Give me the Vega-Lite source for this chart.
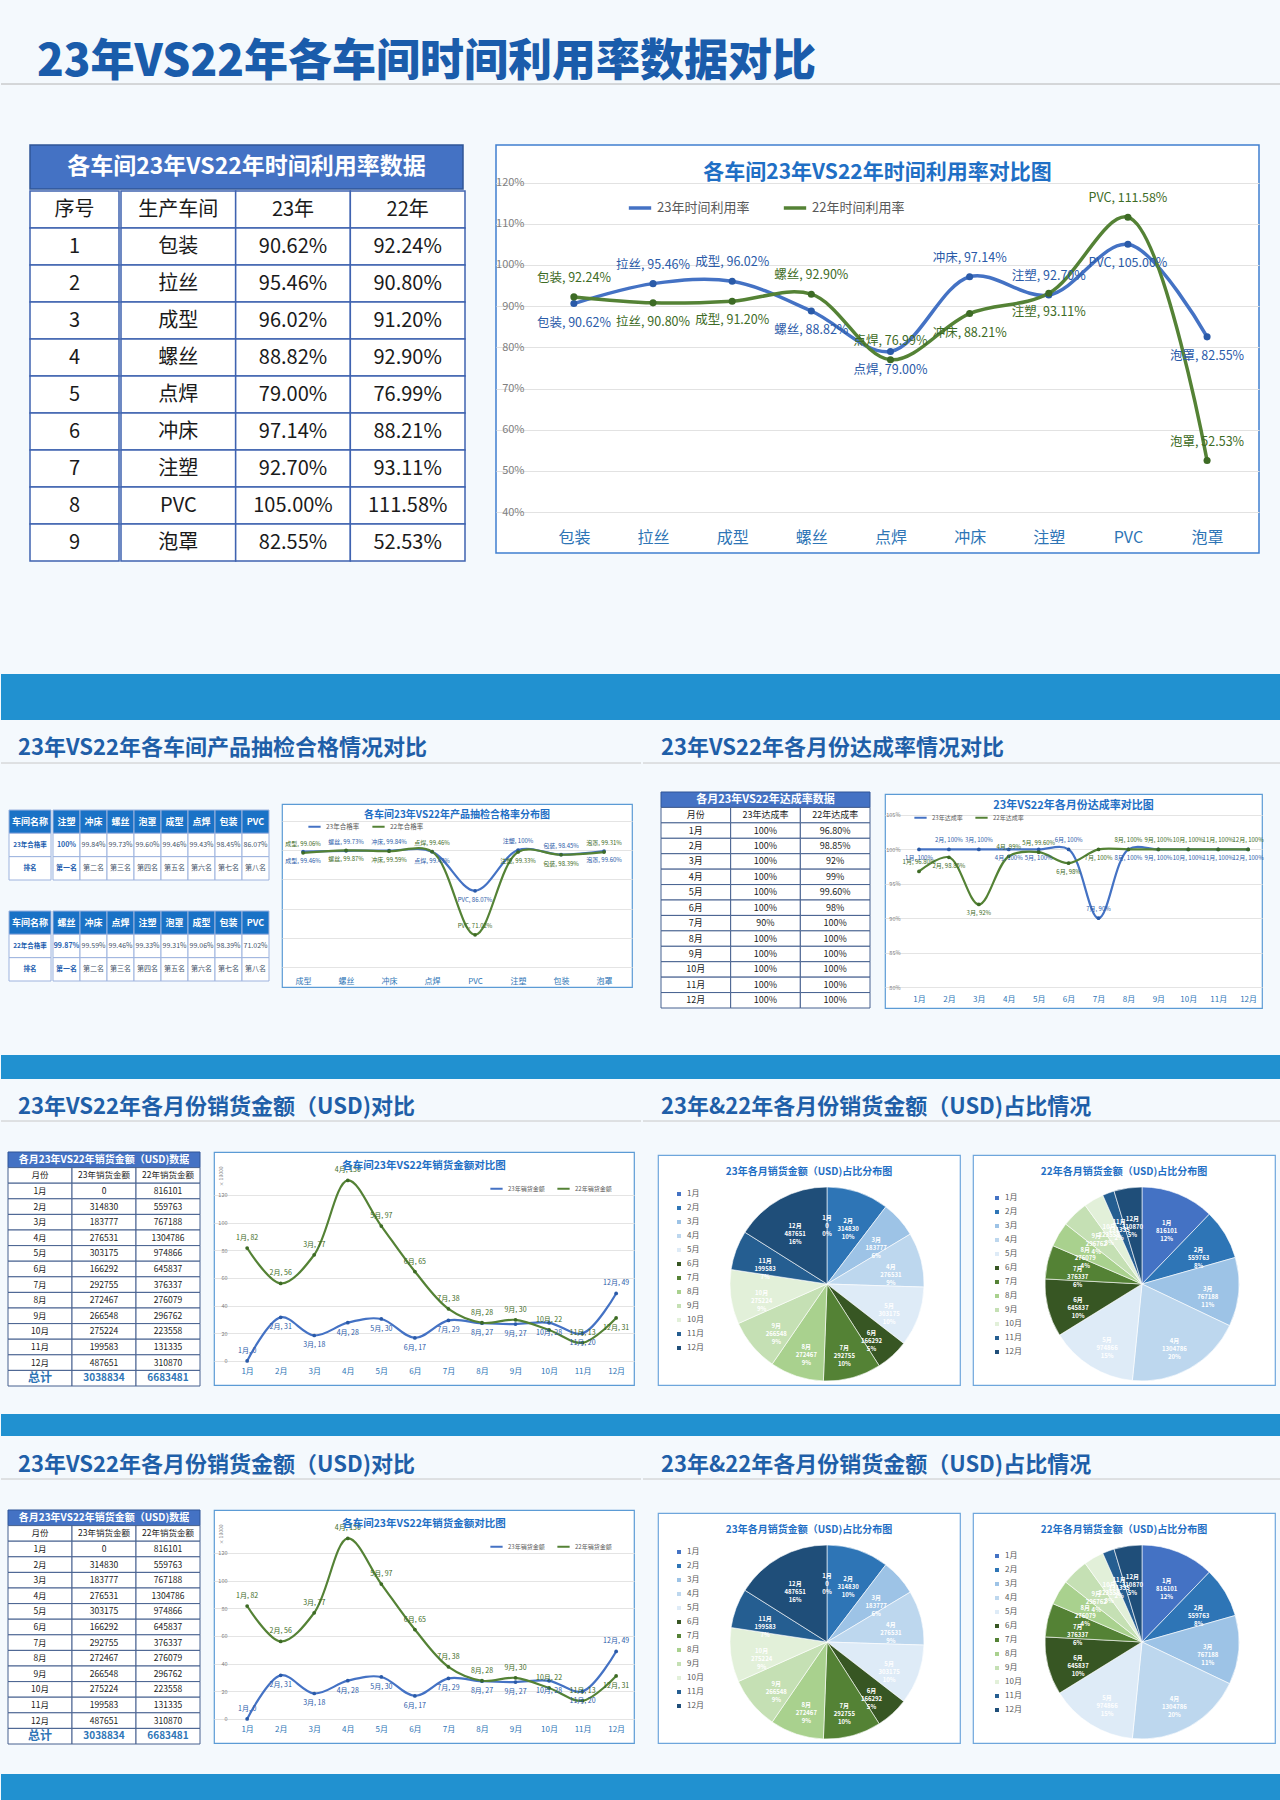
{
"$schema":"https://vega.github.io/schema/vega-lite/v6.json",
"background":"#f4f9fd",
"padding":0,
"spacing":0,
"resolve":{"scale":{"color":"independent","fill":"independent","theta":"independent"},"legend":{"color":"independent","fill":"independent"}},
"config":{"font":"Noto Sans CJK SC","view":{"stroke":null},"concat":{"spacing":0}},
"datasets":{
"t1":[
{"r":"t","a":"各车间23年VS22年时间利用率数据"},
{"r":"h","a":"序号","b":"生产车间","c":"23年","d":"22年"},
{"r":"1","a":"1","b":"包装","c":"90.62%","d":"92.24%"},
{"r":"2","a":"2","b":"拉丝","c":"95.46%","d":"90.80%"},
{"r":"3","a":"3","b":"成型","c":"96.02%","d":"91.20%"},
{"r":"4","a":"4","b":"螺丝","c":"88.82%","d":"92.90%"},
{"r":"5","a":"5","b":"点焊","c":"79.00%","d":"76.99%"},
{"r":"6","a":"6","b":"冲床","c":"97.14%","d":"88.21%"},
{"r":"7","a":"7","b":"注塑","c":"92.70%","d":"93.11%"},
{"r":"8","a":"8","b":"PVC","c":"105.00%","d":"111.58%"},
{"r":"9","a":"9","b":"泡罩","c":"82.55%","d":"52.53%"}],
"t2a":[
{"r":"h","a":"车间名称","b":"注塑","c":"冲床","d":"螺丝","e":"泡罩","f":"成型","g":"点焊","h":"包装","i":"PVC"},
{"r":"v","a":"23年合格率","b":"100%","c":"99.84%","d":"99.73%","e":"99.60%","f":"99.46%","g":"99.43%","h":"98.45%","i":"86.07%"},
{"r":"k","a":"排名","b":"第一名","c":"第二名","d":"第三名","e":"第四名","f":"第五名","g":"第六名","h":"第七名","i":"第八名"}],
"t2b":[
{"r":"h","a":"车间名称","b":"螺丝","c":"冲床","d":"点焊","e":"注塑","f":"泡罩","g":"成型","h":"包装","i":"PVC"},
{"r":"v","a":"22年合格率","b":"99.87%","c":"99.59%","d":"99.46%","e":"99.33%","f":"99.31%","g":"99.06%","h":"98.39%","i":"71.02%"},
{"r":"k","a":"排名","b":"第一名","c":"第二名","d":"第三名","e":"第四名","f":"第五名","g":"第六名","h":"第七名","i":"第八名"}],
"t2c":[
{"r":"t","a":"各月23年VS22年达成率数据"},
{"r":"h","a":"月份","b":"23年达成率","c":"22年达成率"},
{"r":"1","a":"1月","b":"100%","c":"96.80%"},
{"r":"2","a":"2月","b":"100%","c":"98.85%"},
{"r":"3","a":"3月","b":"100%","c":"92%"},
{"r":"4","a":"4月","b":"100%","c":"99%"},
{"r":"5","a":"5月","b":"100%","c":"99.60%"},
{"r":"6","a":"6月","b":"100%","c":"98%"},
{"r":"7","a":"7月","b":"90%","c":"100%"},
{"r":"8","a":"8月","b":"100%","c":"100%"},
{"r":"9","a":"9月","b":"100%","c":"100%"},
{"r":"10","a":"10月","b":"100%","c":"100%"},
{"r":"11","a":"11月","b":"100%","c":"100%"},
{"r":"12","a":"12月","b":"100%","c":"100%"}],
"t3":[
{"r":"t","a":"各月23年VS22年销货金额（USD)数据"},
{"r":"h","a":"月份","b":"23年销货金额","c":"22年销货金额"},
{"r":"1","a":"1月","b":"0","c":"816101"},
{"r":"2","a":"2月","b":"314830","c":"559763"},
{"r":"3","a":"3月","b":"183777","c":"767188"},
{"r":"4","a":"4月","b":"276531","c":"1304786"},
{"r":"5","a":"5月","b":"303175","c":"974866"},
{"r":"6","a":"6月","b":"166292","c":"645837"},
{"r":"7","a":"7月","b":"292755","c":"376337"},
{"r":"8","a":"8月","b":"272467","c":"276079"},
{"r":"9","a":"9月","b":"266548","c":"296762"},
{"r":"10","a":"10月","b":"275224","c":"223558"},
{"r":"11","a":"11月","b":"199583","c":"131335"},
{"r":"12","a":"12月","b":"487651","c":"310870"},
{"r":"s","a":"总计","b":"3038834","c":"6683481"}],
"util":[
{"cat":"包装","23年时间利用率":90.62,"22年时间利用率":92.24},
{"cat":"拉丝","23年时间利用率":95.46,"22年时间利用率":90.80},
{"cat":"成型","23年时间利用率":96.02,"22年时间利用率":91.20},
{"cat":"螺丝","23年时间利用率":88.82,"22年时间利用率":92.90},
{"cat":"点焊","23年时间利用率":79.00,"22年时间利用率":76.99},
{"cat":"冲床","23年时间利用率":97.14,"22年时间利用率":88.21},
{"cat":"注塑","23年时间利用率":92.70,"22年时间利用率":93.11},
{"cat":"PVC","23年时间利用率":105.00,"22年时间利用率":111.58},
{"cat":"泡罩","23年时间利用率":82.55,"22年时间利用率":52.53}],
"qc":[
{"cat":"成型","23年合格率":99.46,"22年合格率":99.06},
{"cat":"螺丝","23年合格率":99.73,"22年合格率":99.87},
{"cat":"冲床","23年合格率":99.84,"22年合格率":99.59},
{"cat":"点焊","23年合格率":99.43,"22年合格率":99.46},
{"cat":"PVC","23年合格率":86.07,"22年合格率":71.02},
{"cat":"注塑","23年合格率":100,"22年合格率":99.33},
{"cat":"包装","23年合格率":98.45,"22年合格率":98.39},
{"cat":"泡罩","23年合格率":99.60,"22年合格率":99.31}],
"rate":[
{"m":"1月","23年达成率":100,"22年达成率":96.8},
{"m":"2月","23年达成率":100,"22年达成率":98.85},
{"m":"3月","23年达成率":100,"22年达成率":92},
{"m":"4月","23年达成率":100,"22年达成率":99},
{"m":"5月","23年达成率":100,"22年达成率":99.6},
{"m":"6月","23年达成率":100,"22年达成率":98},
{"m":"7月","23年达成率":90,"22年达成率":100},
{"m":"8月","23年达成率":100,"22年达成率":100},
{"m":"9月","23年达成率":100,"22年达成率":100},
{"m":"10月","23年达成率":100,"22年达成率":100},
{"m":"11月","23年达成率":100,"22年达成率":100},
{"m":"12月","23年达成率":100,"22年达成率":100}],
"sales":[
{"n":1,"m":"1月","23年销货金额":0,"22年销货金额":816101},
{"n":2,"m":"2月","23年销货金额":314830,"22年销货金额":559763},
{"n":3,"m":"3月","23年销货金额":183777,"22年销货金额":767188},
{"n":4,"m":"4月","23年销货金额":276531,"22年销货金额":1304786},
{"n":5,"m":"5月","23年销货金额":303175,"22年销货金额":974866},
{"n":6,"m":"6月","23年销货金额":166292,"22年销货金额":645837},
{"n":7,"m":"7月","23年销货金额":292755,"22年销货金额":376337},
{"n":8,"m":"8月","23年销货金额":272467,"22年销货金额":276079},
{"n":9,"m":"9月","23年销货金额":266548,"22年销货金额":296762},
{"n":10,"m":"10月","23年销货金额":275224,"22年销货金额":223558},
{"n":11,"m":"11月","23年销货金额":199583,"22年销货金额":131335},
{"n":12,"m":"12月","23年销货金额":487651,"22年销货金额":310870}]
},
"vconcat":[
{"width":1280,"height":84,"data":{"values":[{}]},"mark":{"type":"rule","color":"#b4b4b4","strokeWidth":1},
 "encoding":{"y":{"datum":0,"type":"quantitative","scale":{"domain":[0,1]},"axis":null}},
 "title":{"text":"23年VS22年各车间时间利用率数据对比","anchor":"start","frame":"group","dx":36,"offset":-85,"fontSize":44,"fontWeight":900,"color":"#1a5cab"}},
{"width":1280,"height":59,"data":{"values":[]},"mark":"point"},
{"hconcat":[
 {"width":28,"height":10,"data":{"values":[]},"mark":"point"},
 {"vconcat":[
  {"width":433,"height":44,"data":{"name":"t1"},"transform":[{"filter":"datum.r == 't'"}],
   "layer":[
    {"mark":{"type":"rect","fill":"#4472c4","stroke":"#2f5597","strokeWidth":1.5},"encoding":{"y":{"field":"r","type":"nominal","scale":{"type":"band","paddingInner":0,"paddingOuter":0},"axis":null}}},
    {"mark":{"type":"text","fill":"white","fontSize":23,"fontWeight":"bold"},"encoding":{"text":{"field":"a"}}}
   ]},
  {"hconcat":[
   {"width":89,"height":370,"data":{"name":"t1"},"transform":[{"filter":"datum.r != 't'"}],
    "encoding":{"y":{"field":"r","type":"nominal","scale":{"type":"band","domain":["h","1","2","3","4","5","6","7","8","9"],"paddingInner":0,"paddingOuter":0},"axis":null}},
    "layer":[
     {"mark":{"type":"rect","fill":"white","stroke":"#3f63b0","strokeWidth":1.5}},
     {"mark":{"type":"text","fill":"#1a1a1a","fontSize":20},"encoding":{"text":{"field":"a"}}}
    ]},
   {"width":344,"height":370,"data":{"name":"t1"},"transform":[{"filter":"datum.r != 't'"},{"fold":["b","c","d"],"as":["col","txt"]}],
    "encoding":{"y":{"field":"r","type":"nominal","scale":{"type":"band","domain":["h","1","2","3","4","5","6","7","8","9"],"paddingInner":0,"paddingOuter":0},"axis":null},
     "x":{"field":"col","type":"nominal","scale":{"type":"band","domain":["b","c","d"],"paddingInner":0,"paddingOuter":0},"axis":null}},
    "layer":[
     {"mark":{"type":"rect","fill":"white","stroke":"#3f63b0","strokeWidth":1.5}},
     {"mark":{"type":"text","fill":"#1a1a1a","fontSize":20},"encoding":{"text":{"field":"txt"}}}
    ]}
  ],"spacing":0}
 ],"spacing":0},
 {"width":28,"height":10,"data":{"values":[]},"mark":"point"},
 {"width":763,"height":408,
  "view":{"fill":"white","stroke":"#3f7fd0","strokeWidth":1.5},
  "title":{"text":"各车间23年VS22年时间利用率对比图","anchor":"middle","offset":-38,"fontSize":21,"fontWeight":"bold","color":"#1f6fc5"},
  "data":{"name":"util"},
  "transform":[{"fold":["23年时间利用率","22年时间利用率"],"as":["series","v"]},{"calculate":"datum.cat + ', ' + format(datum.v, '.2f') + '%'","as":"lbl"}],
  "encoding":{
   "x":{"field":"cat","type":"nominal","sort":null,"scale":{"type":"point","padding":0.82,"align":0.6},"axis":{"title":null,"offset":-26,"labelAngle":0,"labelFontSize":16,"labelColor":"#2e75b6","labelPadding":2,"grid":false,"domain":false,"ticks":false}},
   "y":{"field":"v","type":"quantitative","scale":{"domain":[30.1,129.1],"nice":false,"zero":false},"axis":{"title":null,"values":[40,50,60,70,80,90,100,110,120],"labelExpr":"datum.value + '%'","offset":-30,"labelFontSize":11,"labelColor":"#808080","labelPadding":2,"gridColor":"#e2e2e2","domain":false,"ticks":false}}
  },
  "layer":[
   {"mark":{"type":"line","interpolate":"catmull-rom","strokeWidth":3.5},
    "encoding":{"color":{"field":"series","type":"nominal","sort":["23年时间利用率","22年时间利用率"],"scale":{"range":["#4472c4","#548235"]},
     "legend":{"orient":"none","legendX":131,"legendY":50,"direction":"horizontal","title":null,"symbolType":"stroke","symbolStrokeWidth":3.5,"symbolSize":500,"labelFontSize":13,"labelColor":"#595959","columnPadding":26}}}},
   {"mark":{"type":"circle","size":50,"opacity":1},
    "encoding":{"fill":{"field":"series","type":"nominal","sort":["23年时间利用率","22年时间利用率"],"scale":{"range":["#2a5aa8","#3d6b25"]},"legend":null}}},
   {"transform":[{"filter":"(datum.series == '23年时间利用率') == (indexof(['拉丝','成型','冲床','注塑'], datum.cat) >= 0)"}],
    "mark":{"type":"text","dy":-19,"fontSize":12.5},
    "encoding":{"text":{"field":"lbl"},"fill":{"field":"series","type":"nominal","sort":["23年时间利用率","22年时间利用率"],"legend":null}}},
   {"transform":[{"filter":"(datum.series == '23年时间利用率') != (indexof(['拉丝','成型','冲床','注塑'], datum.cat) >= 0)"}],
    "mark":{"type":"text","dy":19,"fontSize":12.5},
    "encoding":{"text":{"field":"lbl"},"fill":{"field":"series","type":"nominal","sort":["23年时间利用率","22年时间利用率"],"legend":null}}}
  ]}
],"spacing":0,"resolve":{"scale":{"color":"independent","fill":"independent","theta":"independent"},"legend":{"color":"independent","fill":"independent"}}},
{"width":1280,"height":112,"data":{"values":[]},"mark":"point"},
{"width":1280,"height":46,"view":{"fill":"#2191d0","stroke":null},"data":{"values":[]},"mark":"point"},
{"hconcat":[
 {"width":640,"height":43,"data":{"values":[{}]},"mark":{"type":"rule","color":"#c8c8c8"},"encoding":{"y":{"datum":0,"type":"quantitative","scale":{"domain":[0,1]},"axis":null}},
  "title":{"text":"23年VS22年各车间产品抽检合格情况对比","anchor":"start","frame":"group","dx":17,"offset":-40,"fontSize":22,"fontWeight":"bold","color":"#1f5fa8"}},
 {"width":640,"height":43,"data":{"values":[{}]},"mark":{"type":"rule","color":"#c8c8c8"},"encoding":{"y":{"datum":0,"type":"quantitative","scale":{"domain":[0,1]},"axis":null}},
  "title":{"text":"23年VS22年各月份达成率情况对比","anchor":"start","frame":"group","dx":18,"offset":-40,"fontSize":22,"fontWeight":"bold","color":"#1f5fa8"}}
],"spacing":0},
{"width":1280,"height":27,"data":{"values":[]},"mark":"point"},
{"hconcat":[
 {"width":7,"height":10,"data":{"values":[]},"mark":"point"},
 {"vconcat":[
  {"width":258,"height":17,"data":{"values":[]},"mark":"point"},
  {"hconcat":[
   {"width":42,"height":70,"data":{"name":"t2a"},
    "encoding":{"y":{"field":"r","type":"nominal","scale":{"type":"band","domain":["h","v","k"],"paddingInner":0,"paddingOuter":0},"axis":null}},
    "layer":[
     {"mark":{"type":"rect","stroke":"#9db3de","strokeWidth":1},"encoding":{"fill":{"condition":{"test":"datum.r == 'h'","value":"#1a72c6"},"value":"white"}}},
     {"mark":{"type":"text","fontWeight":"bold"},"encoding":{"text":{"field":"a"},"fill":{"condition":{"test":"datum.r == 'h'","value":"white"},"value":"#1f5fb0"},"size":{"condition":{"test":"datum.r == 'h'","value":9},"value":6.5}}}
    ]},
   {"width":216,"height":70,"data":{"name":"t2a"},
    "transform":[{"fold":["b","c","d","e","f","g","h","i"],"as":["col","txt"]}],
    "encoding":{"y":{"field":"r","type":"nominal","scale":{"type":"band","domain":["h","v","k"],"paddingInner":0,"paddingOuter":0},"axis":null},
     "x":{"field":"col","type":"nominal","scale":{"type":"band","domain":["b","c","d","e","f","g","h","i"],"paddingInner":0,"paddingOuter":0},"axis":null}},
    "layer":[
     {"mark":{"type":"rect","stroke":"#9db3de","strokeWidth":1},"encoding":{"fill":{"condition":{"test":"datum.r == 'h'","value":"#1a72c6"},"value":"white"}}},
     {"transform":[{"filter":"datum.r == 'h' || datum.col == 'b'"}],"mark":{"type":"text","fontWeight":"bold"},
      "encoding":{"text":{"field":"txt"},"fill":{"condition":{"test":"datum.r == 'h'","value":"white"},"value":"#1f5fb0"},"size":{"condition":{"test":"datum.r == 'h'","value":9},"value":7}}},
     {"transform":[{"filter":"!(datum.r == 'h' || datum.col == 'b')"}],"mark":{"type":"text","fill":"#44546a","fontSize":7},"encoding":{"text":{"field":"txt"}}}
    ]}
  ],"spacing":0},
  {"width":258,"height":29,"data":{"values":[]},"mark":"point"},
  {"hconcat":[
   {"width":42,"height":70,"data":{"name":"t2b"},
    "encoding":{"y":{"field":"r","type":"nominal","scale":{"type":"band","domain":["h","v","k"],"paddingInner":0,"paddingOuter":0},"axis":null}},
    "layer":[
     {"mark":{"type":"rect","stroke":"#9db3de","strokeWidth":1},"encoding":{"fill":{"condition":{"test":"datum.r == 'h'","value":"#1a72c6"},"value":"white"}}},
     {"mark":{"type":"text","fontWeight":"bold"},"encoding":{"text":{"field":"a"},"fill":{"condition":{"test":"datum.r == 'h'","value":"white"},"value":"#1f5fb0"},"size":{"condition":{"test":"datum.r == 'h'","value":9},"value":6.5}}}
    ]},
   {"width":216,"height":70,"data":{"name":"t2b"},
    "transform":[{"fold":["b","c","d","e","f","g","h","i"],"as":["col","txt"]}],
    "encoding":{"y":{"field":"r","type":"nominal","scale":{"type":"band","domain":["h","v","k"],"paddingInner":0,"paddingOuter":0},"axis":null},
     "x":{"field":"col","type":"nominal","scale":{"type":"band","domain":["b","c","d","e","f","g","h","i"],"paddingInner":0,"paddingOuter":0},"axis":null}},
    "layer":[
     {"mark":{"type":"rect","stroke":"#9db3de","strokeWidth":1},"encoding":{"fill":{"condition":{"test":"datum.r == 'h'","value":"#1a72c6"},"value":"white"}}},
     {"transform":[{"filter":"datum.r == 'h' || datum.col == 'b'"}],"mark":{"type":"text","fontWeight":"bold"},
      "encoding":{"text":{"field":"txt"},"fill":{"condition":{"test":"datum.r == 'h'","value":"white"},"value":"#1f5fb0"},"size":{"condition":{"test":"datum.r == 'h'","value":9},"value":7}}},
     {"transform":[{"filter":"!(datum.r == 'h' || datum.col == 'b')"}],"mark":{"type":"text","fill":"#44546a","fontSize":7},"encoding":{"text":{"field":"txt"}}}
    ]}
  ],"spacing":0}
 ],"spacing":0},
 {"width":11,"height":10,"data":{"values":[]},"mark":"point"},
 {"vconcat":[
  {"width":350,"height":11,"data":{"values":[]},"mark":"point"},
  {"width":350,"height":183,
   "view":{"fill":"white","stroke":"#5b9bd5","strokeWidth":1.2},
   "title":{"text":"各车间23年VS22年产品抽检合格率分布图","anchor":"middle","offset":-16,"fontSize":10,"fontWeight":"bold","color":"#1f6fc5"},
   "data":{"name":"qc"},
   "transform":[{"fold":["23年合格率","22年合格率"],"as":["series","v"]},{"calculate":"datum.cat + ', ' + format(datum.v, datum.v % 1 == 0 ? 'd' : '.2f') + '%'","as":"lbl"}],
   "encoding":{
    "x":{"field":"cat","type":"nominal","sort":null,"scale":{"type":"point","padding":0.57,"align":0.43},"axis":{"title":null,"offset":-11,"labelAngle":0,"labelFontSize":8,"labelColor":"#2e75b6","labelPadding":1,"grid":false,"domain":false,"ticks":false}},
    "y":{"field":"v","type":"quantitative","scale":{"domain":[53.15,115.75],"nice":false,"zero":false},"axis":{"title":null,"values":[60,70,80,90,100,110],"labels":false,"gridColor":"#e4e4e4","domain":false,"ticks":false}}
   },
   "layer":[
    {"mark":{"type":"line","interpolate":"catmull-rom","strokeWidth":2.2},
     "encoding":{"color":{"field":"series","type":"nominal","sort":["23年合格率","22年合格率"],"scale":{"range":["#4472c4","#548235"]},
      "legend":{"orient":"none","legendX":25,"legendY":15,"direction":"horizontal","title":null,"symbolType":"stroke","symbolStrokeWidth":2,"symbolSize":150,"labelFontSize":6.5,"labelColor":"#595959","columnPadding":8}}}},
    {"mark":{"type":"circle","size":14,"opacity":1},
     "encoding":{"fill":{"field":"series","type":"nominal","sort":["23年合格率","22年合格率"],"scale":{"range":["#2a5aa8","#3d6b25"]},"legend":null}}},
    {"transform":[{"filter":"(datum.series == '23年合格率') == (indexof(['螺丝','冲床','注塑','包装'], datum.cat) >= 0)"}],
     "mark":{"type":"text","dy":-9,"fontSize":6},
     "encoding":{"text":{"field":"lbl"},"fill":{"field":"series","type":"nominal","sort":["23年合格率","22年合格率"],"legend":null}}},
    {"transform":[{"filter":"(datum.series == '23年合格率') != (indexof(['螺丝','冲床','注塑','包装'], datum.cat) >= 0)"}],
     "mark":{"type":"text","dy":9,"fontSize":6},
     "encoding":{"text":{"field":"lbl"},"fill":{"field":"series","type":"nominal","sort":["23年合格率","22年合格率"],"legend":null}}}
   ]}
 ],"spacing":0,"resolve":{"scale":{"color":"independent","fill":"independent"},"legend":{"color":"independent","fill":"independent"}}},
 {"width":27,"height":10,"data":{"values":[]},"mark":"point"},
 {"width":209,"height":216,"data":{"name":"t2c"},
  "transform":[{"fold":["a","b","c"],"as":["col","txt"]}],
  "encoding":{"y":{"field":"r","type":"nominal","scale":{"type":"band","domain":["t","h","1","2","3","4","5","6","7","8","9","10","11","12"],"paddingInner":0,"paddingOuter":0},"axis":null}},
  "layer":[
   {"transform":[{"filter":"datum.r == 't' && datum.col == 'a'"}],"mark":{"type":"rect","fill":"#4472c4","stroke":"#2f5597","strokeWidth":1}},
   {"transform":[{"filter":"datum.r == 't' && datum.col == 'a'"}],"mark":{"type":"text","fill":"white","fontSize":11,"fontWeight":"bold"},"encoding":{"text":{"field":"txt"}}},
   {"transform":[{"filter":"datum.r != 't'"}],"mark":{"type":"rect","fill":"white","stroke":"#46608f","strokeWidth":1},
    "encoding":{"x":{"field":"col","type":"nominal","scale":{"type":"band","domain":["a","b","c"],"paddingInner":0,"paddingOuter":0},"axis":null}}},
   {"transform":[{"filter":"datum.r != 't'"}],"mark":{"type":"text","fill":"#1a1a1a","fontSize":9},
    "encoding":{"x":{"field":"col","type":"nominal","scale":{"type":"band","domain":["a","b","c"],"paddingInner":0,"paddingOuter":0},"axis":null},"text":{"field":"txt"}}}
  ]},
 {"width":13,"height":10,"data":{"values":[]},"mark":"point"},
 {"vconcat":[
  {"width":377,"height":1,"data":{"values":[]},"mark":"point"},
  {"width":377,"height":214,
   "view":{"fill":"white","stroke":"#5b9bd5","strokeWidth":1.2},
   "title":{"text":"23年VS22年各月份达成率对比图","anchor":"middle","offset":-17,"fontSize":11,"fontWeight":"bold","color":"#1f6fc5"},
   "data":{"name":"rate"},
   "transform":[{"fold":["23年达成率","22年达成率"],"as":["series","v"]},{"calculate":"datum.m + ', ' + format(datum.v, datum.v % 1 == 0 ? 'd' : '.2f') + '%'","as":"lbl"}],
   "encoding":{
    "x":{"field":"m","type":"nominal","sort":null,"scale":{"type":"point","padding":0.8,"align":0.71},"axis":{"title":null,"offset":-15,"labelAngle":0,"labelFontSize":8,"labelColor":"#2e75b6","labelPadding":2,"grid":false,"domain":false,"ticks":false}},
    "y":{"field":"v","type":"quantitative","scale":{"domain":[76.95,108.05],"nice":false,"zero":false},"axis":{"title":null,"values":[80,85,90,95,100,105],"labelExpr":"datum.value + '%'","offset":-16,"labelFontSize":5.5,"labelColor":"#808080","labelPadding":1,"gridColor":"#e4e4e4","domain":false,"ticks":false}}
   },
   "layer":[
    {"mark":{"type":"line","interpolate":"catmull-rom","strokeWidth":2.2},
     "encoding":{"color":{"field":"series","type":"nominal","sort":["23年达成率","22年达成率"],"scale":{"range":["#4472c4","#548235"]},
      "legend":{"orient":"none","legendX":28,"legendY":16,"direction":"horizontal","title":null,"symbolType":"stroke","symbolStrokeWidth":2,"symbolSize":150,"labelFontSize":6,"labelColor":"#595959","columnPadding":8}}}},
    {"mark":{"type":"circle","size":14,"opacity":1},
     "encoding":{"fill":{"field":"series","type":"nominal","sort":["23年达成率","22年达成率"],"scale":{"range":["#2a5aa8","#3d6b25"]},"legend":null}}},
    {"transform":[{"filter":"(datum.series == '23年达成率') == (indexof(['2月','3月','6月','7月'], datum.m) >= 0)"}],
     "mark":{"type":"text","dy":-9,"fontSize":6},
     "encoding":{"text":{"field":"lbl"},"fill":{"field":"series","type":"nominal","sort":["23年达成率","22年达成率"],"legend":null}}},
    {"transform":[{"filter":"(datum.series == '23年达成率') != (indexof(['2月','3月','6月','7月'], datum.m) >= 0)"}],
     "mark":{"type":"text","dy":9,"fontSize":6},
     "encoding":{"text":{"field":"lbl"},"fill":{"field":"series","type":"nominal","sort":["23年达成率","22年达成率"],"legend":null}}}
   ]}
 ],"spacing":0,"resolve":{"scale":{"color":"independent","fill":"independent"},"legend":{"color":"independent","fill":"independent"}}}
],"spacing":0,"resolve":{"scale":{"color":"independent","fill":"independent","theta":"independent"},"legend":{"color":"independent","fill":"independent"}}},
{"width":1280,"height":46,"data":{"values":[]},"mark":"point"},
{"width":1280,"height":24,"view":{"fill":"#2191d0","stroke":null},"data":{"values":[]},"mark":"point"},
{"hconcat":[
 {"width":640,"height":42,"data":{"values":[{}]},"mark":{"type":"rule","color":"#c8c8c8"},"encoding":{"y":{"datum":0,"type":"quantitative","scale":{"domain":[0,1]},"axis":null}},
  "title":{"text":"23年VS22年各月份销货金额（USD)对比","anchor":"start","frame":"group","dx":17,"offset":-40,"fontSize":22,"fontWeight":"bold","color":"#1f5fa8"}},
 {"width":640,"height":42,"data":{"values":[{}]},"mark":{"type":"rule","color":"#c8c8c8"},"encoding":{"y":{"datum":0,"type":"quantitative","scale":{"domain":[0,1]},"axis":null}},
  "title":{"text":"23年&22年各月份销货金额（USD)占比情况","anchor":"start","frame":"group","dx":18,"offset":-40,"fontSize":22,"fontWeight":"bold","color":"#1f5fa8"}}
],"spacing":0},
{"width":1280,"height":29,"data":{"values":[]},"mark":"point"},
{"hconcat":[
 {"width":6,"height":10,"data":{"values":[]},"mark":"point"},
 {"width":192,"height":234,"data":{"name":"t3"},
  "transform":[{"fold":["a","b","c"],"as":["col","txt"]}],
  "encoding":{"y":{"field":"r","type":"nominal","scale":{"type":"band","domain":["t","h","1","2","3","4","5","6","7","8","9","10","11","12","s"],"paddingInner":0,"paddingOuter":0},"axis":null}},
  "layer":[
   {"transform":[{"filter":"datum.r == 't' && datum.col == 'a'"}],"mark":{"type":"rect","fill":"#4472c4","stroke":"#2f5597","strokeWidth":1}},
   {"transform":[{"filter":"datum.r == 't' && datum.col == 'a'"}],"mark":{"type":"text","fill":"white","fontSize":10,"fontWeight":"bold"},"encoding":{"text":{"field":"txt"}}},
   {"transform":[{"filter":"datum.r != 't'"}],"mark":{"type":"rect","fill":"white","stroke":"#46608f","strokeWidth":1},
    "encoding":{"x":{"field":"col","type":"nominal","scale":{"type":"band","domain":["a","b","c"],"paddingInner":0,"paddingOuter":0},"axis":null}}},
   {"transform":[{"filter":"datum.r != 't' && datum.r != 's'"}],"mark":{"type":"text","fill":"#1a1a1a","fontSize":8.5},
    "encoding":{"x":{"field":"col","type":"nominal","scale":{"type":"band","domain":["a","b","c"],"paddingInner":0,"paddingOuter":0},"axis":null},"text":{"field":"txt"}}},
   {"transform":[{"filter":"datum.r == 's'"}],"mark":{"type":"text","fill":"#2e75b6","fontWeight":"bold"},
    "encoding":{"x":{"field":"col","type":"nominal","scale":{"type":"band","domain":["a","b","c"],"paddingInner":0,"paddingOuter":0},"axis":null},"text":{"field":"txt"},"size":{"condition":{"test":"datum.col == 'a'","value":12},"value":10}}}
  ]},
 {"width":12,"height":10,"data":{"values":[]},"mark":"point"},
 {"width":420,"height":233,
  "view":{"fill":"white","stroke":"#5b9bd5","strokeWidth":1.2},
  "title":{"text":"各车间23年VS22年销货金额对比图","anchor":"middle","offset":-19,"fontSize":10.5,"fontWeight":"bold","color":"#1f6fc5"},
  "data":{"name":"sales"},
  "transform":[{"fold":["23年销货金额","22年销货金额"],"as":["series","v"]},{"calculate":"datum.m + ', ' + round(datum.v / 10000)","as":"lbl"}],
  "encoding":{
   "x":{"field":"m","type":"nominal","sort":null,"scale":{"type":"point","padding":0.76,"align":0.65},"axis":{"title":null,"offset":-20,"labelAngle":0,"labelFontSize":8,"labelColor":"#2e75b6","labelPadding":2,"grid":false,"domain":false,"ticks":false}},
   "y":{"field":"v","type":"quantitative","scale":{"domain":[-174000,1510000],"nice":false,"zero":false},"axis":{"title":"× 10000","titleFontSize":5,"titleFontWeight":"normal","titleColor":"#808080","titleX":-8,"titleY":24,"titleAngle":270,"titleAlign":"center","titleBaseline":"middle","values":[0,200000,400000,600000,800000,1000000,1200000],"labelExpr":"datum.value / 10000","offset":-14,"labelFontSize":5.5,"labelColor":"#808080","labelPadding":1,"gridColor":"#e4e4e4","domain":false,"ticks":false}}
  },
  "layer":[
   {"mark":{"type":"line","interpolate":"catmull-rom","strokeWidth":2.2},
    "encoding":{"color":{"field":"series","type":"nominal","sort":["23年销货金额","22年销货金额"],"scale":{"range":["#4472c4","#548235"]},
     "legend":{"orient":"none","legendX":275,"legendY":29,"direction":"horizontal","title":null,"symbolType":"stroke","symbolStrokeWidth":2,"symbolSize":150,"labelFontSize":6,"labelColor":"#595959","columnPadding":8}}}},
   {"mark":{"type":"circle","size":14,"opacity":1},
    "encoding":{"fill":{"field":"series","type":"nominal","sort":["23年销货金额","22年销货金额"],"scale":{"range":["#2a5aa8","#3d6b25"]},"legend":null}}},
   {"transform":[{"filter":"datum.series == '23年销货金额' ? indexof(['1月','12月'], datum.m) >= 0 : datum.m != '12月'"}],
    "mark":{"type":"text","dy":-10,"fontSize":7},
    "encoding":{"text":{"field":"lbl"},"fill":{"field":"series","type":"nominal","sort":["23年销货金额","22年销货金额"],"legend":null}}},
   {"transform":[{"filter":"!(datum.series == '23年销货金额' ? indexof(['1月','12月'], datum.m) >= 0 : datum.m != '12月')"}],
    "mark":{"type":"text","dy":10,"fontSize":7},
    "encoding":{"text":{"field":"lbl"},"fill":{"field":"series","type":"nominal","sort":["23年销货金额","22年销货金额"],"legend":null}}}
  ]},
 {"width":22,"height":10,"data":{"values":[]},"mark":"point"},
 {"vconcat":[
  {"width":302,"height":2,"data":{"values":[]},"mark":"point"},
  {"width":302,"height":230,
   "view":{"fill":"white","stroke":"#6ea6dc","strokeWidth":1.2},
   "title":{"text":"23年各月销货金额（USD)占比分布图","anchor":"middle","offset":-22,"fontSize":10,"fontWeight":"bold","color":"#1f6fc5"},
   "data":{"name":"sales"},
   "transform":[{"joinaggregate":[{"op":"sum","field":"23年销货金额","as":"tot"}]},{"calculate":"datum.m + '\\n' + datum['23年销货金额'] + '\\n' + format(datum['23年销货金额'] / datum.tot, '.0%')","as":"lbl"}],
   "encoding":{"theta":{"field":"23年销货金额","type":"quantitative","stack":true},"order":{"field":"n","type":"quantitative"}},
   "layer":[
    {"mark":{"type":"arc","outerRadius":97,"xOffset":18,"yOffset":14,"stroke":"white","strokeWidth":0.6},
     "encoding":{"color":{"field":"m","type":"nominal","scale":{"domain":["1月","2月","3月","4月","5月","6月","7月","8月","9月","10月","11月","12月"],"range":["#4472c4","#2e75b6","#9dc3e6","#bdd7ee","#deebf7","#375623","#548235","#a9d18e","#c5e0b4","#e2f0d9","#255e91","#1f4e79"]},
      "legend":{"orient":"none","legendX":17,"legendY":38,"title":null,"symbolType":"square","symbolSize":30,"labelFontSize":8,"labelColor":"#595959","rowPadding":2}}}},
    {"mark":{"type":"text","radius":66,"xOffset":18,"yOffset":14,"fontSize":6,"lineBreak":"\n","fill":"white","fontWeight":"bold"},"encoding":{"text":{"field":"lbl"},"detail":{"field":"m"}}}
   ]}
 ],"spacing":0},
 {"width":11,"height":10,"data":{"values":[]},"mark":"point"},
 {"vconcat":[
  {"width":302,"height":2,"data":{"values":[]},"mark":"point"},
  {"width":302,"height":230,
   "view":{"fill":"white","stroke":"#6ea6dc","strokeWidth":1.2},
   "title":{"text":"22年各月销货金额（USD)占比分布图","anchor":"middle","offset":-22,"fontSize":10,"fontWeight":"bold","color":"#1f6fc5"},
   "data":{"name":"sales"},
   "transform":[{"joinaggregate":[{"op":"sum","field":"22年销货金额","as":"tot"}]},{"calculate":"datum.m + '\\n' + datum['22年销货金额'] + '\\n' + format(datum['22年销货金额'] / datum.tot, '.0%')","as":"lbl"}],
   "encoding":{"theta":{"field":"22年销货金额","type":"quantitative","stack":true},"order":{"field":"n","type":"quantitative"}},
   "layer":[
    {"mark":{"type":"arc","outerRadius":97,"xOffset":18,"yOffset":14,"stroke":"white","strokeWidth":0.6},
     "encoding":{"color":{"field":"m","type":"nominal","scale":{"domain":["1月","2月","3月","4月","5月","6月","7月","8月","9月","10月","11月","12月"],"range":["#4472c4","#2e75b6","#9dc3e6","#bdd7ee","#deebf7","#375623","#548235","#a9d18e","#c5e0b4","#e2f0d9","#255e91","#1f4e79"]},
      "legend":{"orient":"none","legendX":20,"legendY":42,"title":null,"symbolType":"square","symbolSize":30,"labelFontSize":8,"labelColor":"#595959","rowPadding":2}}}},
    {"mark":{"type":"text","radius":66,"xOffset":18,"yOffset":14,"fontSize":6,"lineBreak":"\n","fill":"white","fontWeight":"bold"},"encoding":{"text":{"field":"lbl"},"detail":{"field":"m"}}}
   ]}
 ],"spacing":0}
],"spacing":0,"resolve":{"scale":{"color":"independent","fill":"independent","theta":"independent"},"legend":{"color":"independent","fill":"independent"}}},
{"width":1280,"height":27,"data":{"values":[]},"mark":"point"},
{"width":1280,"height":22,"view":{"fill":"#2191d0","stroke":null},"data":{"values":[]},"mark":"point"},
{"hconcat":[
 {"width":640,"height":43,"data":{"values":[{}]},"mark":{"type":"rule","color":"#c8c8c8"},"encoding":{"y":{"datum":0,"type":"quantitative","scale":{"domain":[0,1]},"axis":null}},
  "title":{"text":"23年VS22年各月份销货金额（USD)对比","anchor":"start","frame":"group","dx":17,"offset":-41,"fontSize":22,"fontWeight":"bold","color":"#1f5fa8"}},
 {"width":640,"height":43,"data":{"values":[{}]},"mark":{"type":"rule","color":"#c8c8c8"},"encoding":{"y":{"datum":0,"type":"quantitative","scale":{"domain":[0,1]},"axis":null}},
  "title":{"text":"23年&22年各月份销货金额（USD)占比情况","anchor":"start","frame":"group","dx":18,"offset":-41,"fontSize":22,"fontWeight":"bold","color":"#1f5fa8"}}
],"spacing":0},
{"width":1280,"height":29,"data":{"values":[]},"mark":"point"},
{"hconcat":[
 {"width":6,"height":10,"data":{"values":[]},"mark":"point"},
 {"width":192,"height":234,"data":{"name":"t3"},
  "transform":[{"fold":["a","b","c"],"as":["col","txt"]}],
  "encoding":{"y":{"field":"r","type":"nominal","scale":{"type":"band","domain":["t","h","1","2","3","4","5","6","7","8","9","10","11","12","s"],"paddingInner":0,"paddingOuter":0},"axis":null}},
  "layer":[
   {"transform":[{"filter":"datum.r == 't' && datum.col == 'a'"}],"mark":{"type":"rect","fill":"#4472c4","stroke":"#2f5597","strokeWidth":1}},
   {"transform":[{"filter":"datum.r == 't' && datum.col == 'a'"}],"mark":{"type":"text","fill":"white","fontSize":10,"fontWeight":"bold"},"encoding":{"text":{"field":"txt"}}},
   {"transform":[{"filter":"datum.r != 't'"}],"mark":{"type":"rect","fill":"white","stroke":"#46608f","strokeWidth":1},
    "encoding":{"x":{"field":"col","type":"nominal","scale":{"type":"band","domain":["a","b","c"],"paddingInner":0,"paddingOuter":0},"axis":null}}},
   {"transform":[{"filter":"datum.r != 't' && datum.r != 's'"}],"mark":{"type":"text","fill":"#1a1a1a","fontSize":8.5},
    "encoding":{"x":{"field":"col","type":"nominal","scale":{"type":"band","domain":["a","b","c"],"paddingInner":0,"paddingOuter":0},"axis":null},"text":{"field":"txt"}}},
   {"transform":[{"filter":"datum.r == 's'"}],"mark":{"type":"text","fill":"#2e75b6","fontWeight":"bold"},
    "encoding":{"x":{"field":"col","type":"nominal","scale":{"type":"band","domain":["a","b","c"],"paddingInner":0,"paddingOuter":0},"axis":null},"text":{"field":"txt"},"size":{"condition":{"test":"datum.col == 'a'","value":12},"value":10}}}
  ]},
 {"width":12,"height":10,"data":{"values":[]},"mark":"point"},
 {"width":420,"height":233,
  "view":{"fill":"white","stroke":"#5b9bd5","strokeWidth":1.2},
  "title":{"text":"各车间23年VS22年销货金额对比图","anchor":"middle","offset":-19,"fontSize":10.5,"fontWeight":"bold","color":"#1f6fc5"},
  "data":{"name":"sales"},
  "transform":[{"fold":["23年销货金额","22年销货金额"],"as":["series","v"]},{"calculate":"datum.m + ', ' + round(datum.v / 10000)","as":"lbl"}],
  "encoding":{
   "x":{"field":"m","type":"nominal","sort":null,"scale":{"type":"point","padding":0.76,"align":0.65},"axis":{"title":null,"offset":-20,"labelAngle":0,"labelFontSize":8,"labelColor":"#2e75b6","labelPadding":2,"grid":false,"domain":false,"ticks":false}},
   "y":{"field":"v","type":"quantitative","scale":{"domain":[-174000,1510000],"nice":false,"zero":false},"axis":{"title":"× 10000","titleFontSize":5,"titleFontWeight":"normal","titleColor":"#808080","titleX":-8,"titleY":24,"titleAngle":270,"titleAlign":"center","titleBaseline":"middle","values":[0,200000,400000,600000,800000,1000000,1200000],"labelExpr":"datum.value / 10000","offset":-14,"labelFontSize":5.5,"labelColor":"#808080","labelPadding":1,"gridColor":"#e4e4e4","domain":false,"ticks":false}}
  },
  "layer":[
   {"mark":{"type":"line","interpolate":"catmull-rom","strokeWidth":2.2},
    "encoding":{"color":{"field":"series","type":"nominal","sort":["23年销货金额","22年销货金额"],"scale":{"range":["#4472c4","#548235"]},
     "legend":{"orient":"none","legendX":275,"legendY":29,"direction":"horizontal","title":null,"symbolType":"stroke","symbolStrokeWidth":2,"symbolSize":150,"labelFontSize":6,"labelColor":"#595959","columnPadding":8}}}},
   {"mark":{"type":"circle","size":14,"opacity":1},
    "encoding":{"fill":{"field":"series","type":"nominal","sort":["23年销货金额","22年销货金额"],"scale":{"range":["#2a5aa8","#3d6b25"]},"legend":null}}},
   {"transform":[{"filter":"datum.series == '23年销货金额' ? indexof(['1月','12月'], datum.m) >= 0 : datum.m != '12月'"}],
    "mark":{"type":"text","dy":-10,"fontSize":7},
    "encoding":{"text":{"field":"lbl"},"fill":{"field":"series","type":"nominal","sort":["23年销货金额","22年销货金额"],"legend":null}}},
   {"transform":[{"filter":"!(datum.series == '23年销货金额' ? indexof(['1月','12月'], datum.m) >= 0 : datum.m != '12月')"}],
    "mark":{"type":"text","dy":10,"fontSize":7},
    "encoding":{"text":{"field":"lbl"},"fill":{"field":"series","type":"nominal","sort":["23年销货金额","22年销货金额"],"legend":null}}}
  ]},
 {"width":22,"height":10,"data":{"values":[]},"mark":"point"},
 {"vconcat":[
  {"width":302,"height":2,"data":{"values":[]},"mark":"point"},
  {"width":302,"height":230,
   "view":{"fill":"white","stroke":"#6ea6dc","strokeWidth":1.2},
   "title":{"text":"23年各月销货金额（USD)占比分布图","anchor":"middle","offset":-22,"fontSize":10,"fontWeight":"bold","color":"#1f6fc5"},
   "data":{"name":"sales"},
   "transform":[{"joinaggregate":[{"op":"sum","field":"23年销货金额","as":"tot"}]},{"calculate":"datum.m + '\\n' + datum['23年销货金额'] + '\\n' + format(datum['23年销货金额'] / datum.tot, '.0%')","as":"lbl"}],
   "encoding":{"theta":{"field":"23年销货金额","type":"quantitative","stack":true},"order":{"field":"n","type":"quantitative"}},
   "layer":[
    {"mark":{"type":"arc","outerRadius":97,"xOffset":18,"yOffset":14,"stroke":"white","strokeWidth":0.6},
     "encoding":{"color":{"field":"m","type":"nominal","scale":{"domain":["1月","2月","3月","4月","5月","6月","7月","8月","9月","10月","11月","12月"],"range":["#4472c4","#2e75b6","#9dc3e6","#bdd7ee","#deebf7","#375623","#548235","#a9d18e","#c5e0b4","#e2f0d9","#255e91","#1f4e79"]},
      "legend":{"orient":"none","legendX":17,"legendY":38,"title":null,"symbolType":"square","symbolSize":30,"labelFontSize":8,"labelColor":"#595959","rowPadding":2}}}},
    {"mark":{"type":"text","radius":66,"xOffset":18,"yOffset":14,"fontSize":6,"lineBreak":"\n","fill":"white","fontWeight":"bold"},"encoding":{"text":{"field":"lbl"},"detail":{"field":"m"}}}
   ]}
 ],"spacing":0},
 {"width":11,"height":10,"data":{"values":[]},"mark":"point"},
 {"vconcat":[
  {"width":302,"height":2,"data":{"values":[]},"mark":"point"},
  {"width":302,"height":230,
   "view":{"fill":"white","stroke":"#6ea6dc","strokeWidth":1.2},
   "title":{"text":"22年各月销货金额（USD)占比分布图","anchor":"middle","offset":-22,"fontSize":10,"fontWeight":"bold","color":"#1f6fc5"},
   "data":{"name":"sales"},
   "transform":[{"joinaggregate":[{"op":"sum","field":"22年销货金额","as":"tot"}]},{"calculate":"datum.m + '\\n' + datum['22年销货金额'] + '\\n' + format(datum['22年销货金额'] / datum.tot, '.0%')","as":"lbl"}],
   "encoding":{"theta":{"field":"22年销货金额","type":"quantitative","stack":true},"order":{"field":"n","type":"quantitative"}},
   "layer":[
    {"mark":{"type":"arc","outerRadius":97,"xOffset":18,"yOffset":14,"stroke":"white","strokeWidth":0.6},
     "encoding":{"color":{"field":"m","type":"nominal","scale":{"domain":["1月","2月","3月","4月","5月","6月","7月","8月","9月","10月","11月","12月"],"range":["#4472c4","#2e75b6","#9dc3e6","#bdd7ee","#deebf7","#375623","#548235","#a9d18e","#c5e0b4","#e2f0d9","#255e91","#1f4e79"]},
      "legend":{"orient":"none","legendX":20,"legendY":42,"title":null,"symbolType":"square","symbolSize":30,"labelFontSize":8,"labelColor":"#595959","rowPadding":2}}}},
    {"mark":{"type":"text","radius":66,"xOffset":18,"yOffset":14,"fontSize":6,"lineBreak":"\n","fill":"white","fontWeight":"bold"},"encoding":{"text":{"field":"lbl"},"detail":{"field":"m"}}}
   ]}
 ],"spacing":0}
],"spacing":0,"resolve":{"scale":{"color":"independent","fill":"independent","theta":"independent"},"legend":{"color":"independent","fill":"independent"}}},
{"width":1280,"height":29,"data":{"values":[]},"mark":"point"},
{"width":1280,"height":33,"view":{"fill":"#2191d0","stroke":null},"data":{"values":[]},"mark":"point"}
]
}
